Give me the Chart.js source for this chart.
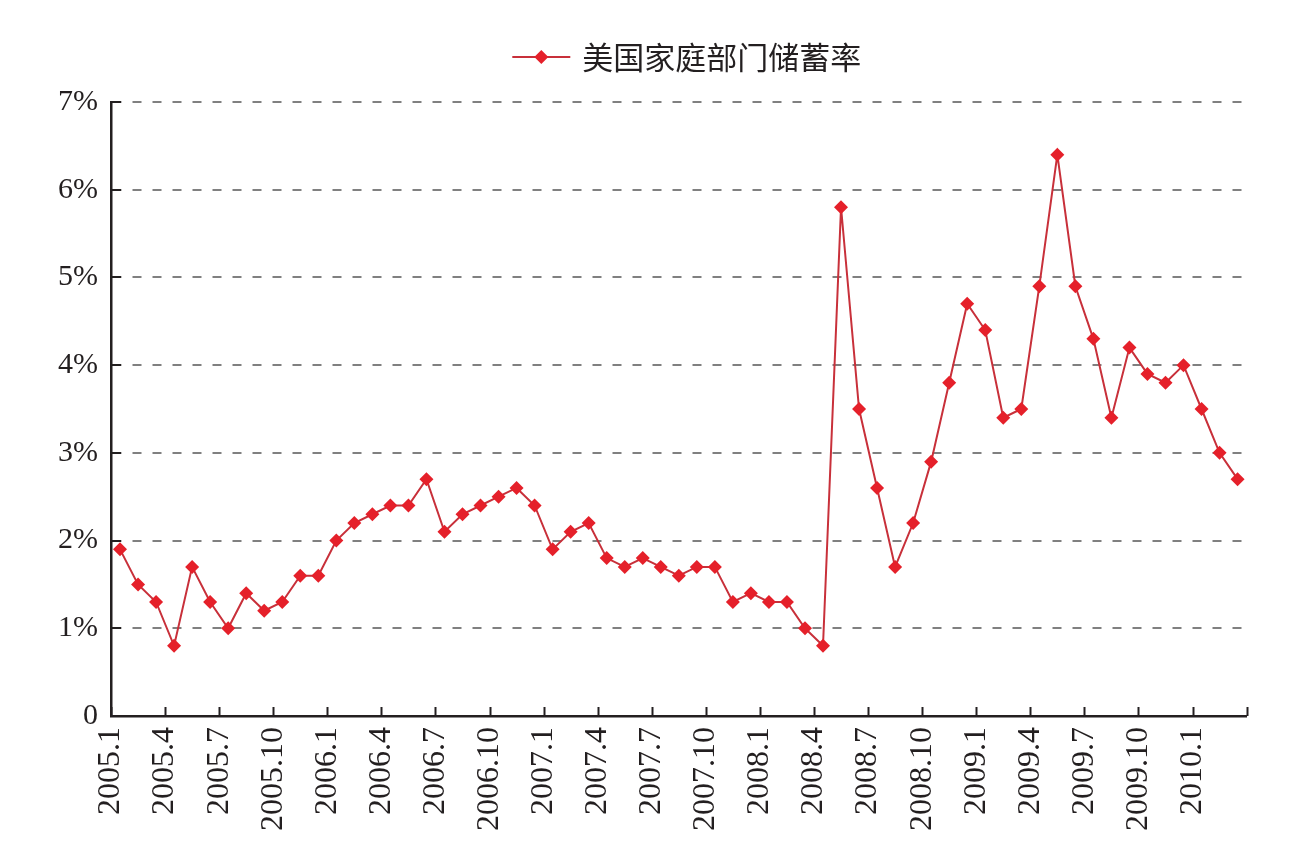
<!DOCTYPE html>
<html>
<head>
<meta charset="utf-8">
<script src="https://cdn.jsdelivr.net/npm/chart.js@4.4.1/dist/chart.umd.min.js"></script>
<style>
  html, body { margin: 0; padding: 0; background: #ffffff; }
  #wrap { width: 1296px; height: 853px; }
</style>
</head>
<body>
<div id="wrap"><canvas id="ahorroChart" width="1296" height="853"></canvas></div>
<script>
// Meses (una etiqueta por punto)
var meses = [
    '2005.1','2005.2','2005.3','2005.4','2005.5','2005.6','2005.7','2005.8','2005.9','2005.10','2005.11','2005.12',
    '2006.1','2006.2','2006.3','2006.4','2006.5','2006.6','2006.7','2006.8','2006.9','2006.10','2006.11','2006.12',
    '2007.1','2007.2','2007.3','2007.4','2007.5','2007.6','2007.7','2007.8','2007.9','2007.10','2007.11','2007.12',
    '2008.1','2008.2','2008.3','2008.4','2008.5','2008.6','2008.7','2008.8','2008.9','2008.10','2008.11','2008.12',
    '2009.1','2009.2','2009.3','2009.4','2009.5','2009.6','2009.7','2009.8','2009.9','2009.10','2009.11','2009.12',
    '2010.1','2010.2','2010.3'
];

// Tasa de ahorro de los hogares (%)
var tasaAhorro = [
    1.9, 1.5, 1.3, 0.8, 1.7, 1.3, 1.0, 1.4, 1.2, 1.3, 1.6, 1.6,
    2.0, 2.2, 2.3, 2.4, 2.4, 2.7, 2.1, 2.3, 2.4, 2.5, 2.6, 2.4,
    1.9, 2.1, 2.2, 1.8, 1.7, 1.8, 1.7, 1.6, 1.7, 1.7, 1.3, 1.4,
    1.3, 1.3, 1.0, 0.8, 5.8, 3.5, 2.6, 1.7, 2.2, 2.9, 3.8, 4.7,
    4.4, 3.4, 3.5, 4.9, 6.4, 4.9, 4.3, 3.4, 4.2, 3.9, 3.8, 4.0,
    3.5, 3.0, 2.7
];

var etiquetaSerie = '美国家庭部门储蓄率';
var etiquetasY = ['0', '1%', '2%', '3%', '4%', '5%', '6%', '7%'];

var colorLinea = '#C8303A';
var colorPunto = '#E5202A';
var colorTexto = '#231F20';
var fuenteNum = '"Liberation Serif", "Times New Roman", serif';

// Leyenda propia: línea con rombo y el nombre de la serie, encima del área
var leyenda = {
    id: 'leyenda',
    afterDraw: function(chart) {
        var ctx = chart.ctx;
        var area = chart.chartArea;
        ctx.save();
        ctx.font = '31px "Noto Sans CJK SC", sans-serif';
        var anchoTexto = ctx.measureText(etiquetaSerie).width;
        var total = 58 + 12 + anchoTexto;
        var x0 = (area.left + area.right) / 2 + 8 - total / 2;
        var yc = area.top - 45;
        ctx.strokeStyle = colorLinea;
        ctx.lineWidth = 2;
        ctx.beginPath();
        ctx.moveTo(x0, yc);
        ctx.lineTo(x0 + 58, yc);
        ctx.stroke();
        ctx.fillStyle = colorPunto;
        ctx.beginPath();
        ctx.moveTo(x0 + 29, yc - 7);
        ctx.lineTo(x0 + 36, yc);
        ctx.lineTo(x0 + 29, yc + 7);
        ctx.lineTo(x0 + 22, yc);
        ctx.closePath();
        ctx.fill();
        ctx.fillStyle = colorTexto;
        ctx.textBaseline = 'middle';
        ctx.textAlign = 'left';
        ctx.fillText(etiquetaSerie, x0 + 70, yc);
        ctx.restore();
    }
};

// Marcas cortas hacia dentro en ambos ejes
var marcasInternas = {
    id: 'marcasInternas',
    afterDraw: function(chart) {
        var ctx = chart.ctx;
        var x = chart.scales.x;
        var y = chart.scales.y;
        var area = chart.chartArea;
        ctx.save();
        ctx.strokeStyle = colorTexto;
        ctx.lineWidth = 2;
        x.ticks.forEach(function(t) {
            var px = Math.round(x.getPixelForValue(t.value)) + 0.5;
            ctx.beginPath();
            ctx.moveTo(px, area.bottom);
            ctx.lineTo(px, area.bottom - 9);
            ctx.stroke();
        });
        y.ticks.forEach(function(t) {
            var py = Math.round(y.getPixelForValue(t.value));
            ctx.beginPath();
            ctx.moveTo(area.left, py);
            ctx.lineTo(area.left + 10, py);
            ctx.stroke();
        });
        ctx.restore();
    }
};

var ctx1 = document.getElementById('ahorroChart').getContext('2d');
var ahorroChart = new Chart(ctx1, {
    type: 'line',
    data: {
        datasets: [{
            label: etiquetaSerie,
            data: tasaAhorro.map(function(v, i) { return {x: i + 0.5, y: v}; }),
            borderColor: colorLinea,
            backgroundColor: colorPunto,
            borderWidth: 2,
            fill: false,
            tension: 0,
            pointStyle: 'rectRot',
            pointRadius: 7,
            pointBorderWidth: 0,
            pointBackgroundColor: colorPunto
        }]
    },
    options: {
        responsive: false,
        animation: false,
        layout: {
            padding: { left: 0, right: 48, top: 102, bottom: 0 }
        },
        scales: {
            x: {
                type: 'linear',
                min: 0,
                max: 63,
                grid: { display: false, drawTicks: false },
                border: { display: true, color: colorTexto, width: 2.5 },
                ticks: {
                    stepSize: 3,
                    autoSkip: false,
                    minRotation: 90,
                    maxRotation: 90,
                    padding: 11,
                    color: colorTexto,
                    font: { family: fuenteNum, size: 32 },
                    callback: function(v) { return meses[v] || ''; }
                },
                afterFit: function(scale) { scale.height = 137; }
            },
            y: {
                min: 0,
                max: 7,
                grid: { color: '#808080', lineWidth: 2, drawTicks: false },
                border: { display: true, color: colorTexto, width: 2.5, dash: [9, 11] },
                ticks: {
                    stepSize: 1,
                    padding: 13,
                    color: colorTexto,
                    font: { family: fuenteNum, size: 30 },
                    callback: function(v) { return etiquetasY[v]; }
                },
                afterFit: function(scale) { scale.width = 111; }
            }
        },
        plugins: {
            legend: { display: false },
            tooltip: { enabled: false }
        }
    },
    plugins: [marcasInternas, leyenda]
});
</script>
</body>
</html>
